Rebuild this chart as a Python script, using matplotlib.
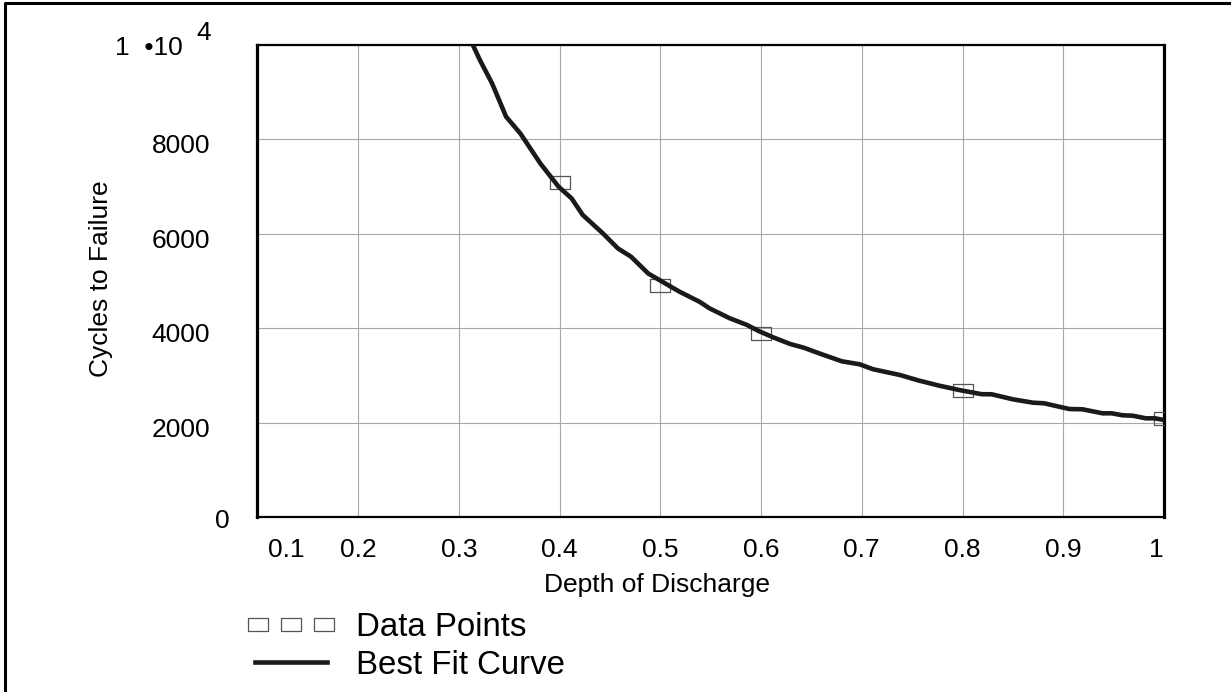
import matplotlib
matplotlib.use("Agg")
import matplotlib.pyplot as plt
import matplotlib.transforms as mtransforms
from matplotlib.legend_handler import HandlerLine2D

# values
dod_points = [0.4, 0.5, 0.6, 0.8, 1.0]
cycles_points = [7104, 4915, 3892, 2684, 2104]

dod_curve = [0.314, 0.321, 0.333, 0.347, 0.361, 0.381, 0.399, 0.412, 0.423,
             0.443, 0.458, 0.471, 0.488, 0.500, 0.519, 0.539, 0.549, 0.569,
             0.586, 0.597, 0.612, 0.629, 0.642, 0.660, 0.680, 0.698, 0.711,
             0.738, 0.756, 0.777, 0.798, 0.819, 0.829, 0.850, 0.870, 0.881,
             0.906, 0.919, 0.939, 0.948, 0.959, 0.969, 0.982, 0.991, 1.000]
cycles_curve = [10000, 9680, 9190, 8480, 8130, 7490, 7000, 6750, 6400,
                6010, 5690, 5515, 5160, 5010, 4775, 4560, 4420, 4210,
                4070, 3947, 3807, 3665, 3590, 3450, 3300, 3235, 3132,
                3008, 2895, 2782, 2685, 2602, 2600, 2493, 2422, 2409,
                2288, 2282, 2197, 2197, 2155, 2146, 2091, 2091, 2055]

x_ticks = [0.1, 0.2, 0.3, 0.4, 0.5, 0.6, 0.7, 0.8, 0.9, 1.0]
x_tick_labels = ["", "0.2", "0.3", "0.4", "0.5", "0.6", "0.7", "0.8", "0.9", "1"]
y_ticks = [0, 2000, 4000, 6000, 8000, 10000]
y_tick_labels = ["", "2000", "4000", "6000", "8000", ""]

# rectangle marker, wider than tall
box = [(-1, -0.65), (1, -0.65), (1, 0.65), (-1, 0.65), (-1, -0.65)]


def main():
    plt.rcParams['font.family'] = ['Liberation Sans', 'DejaVu Sans']

    fig = plt.figure(figsize=(12.31, 6.92), dpi=100)
    ax = fig.add_axes([0.209, 0.2529, 0.7366, 0.682])

    points, = ax.plot(dod_points, cycles_points, linestyle="None", marker=box,
                      markersize=14.4, markerfacecolor="none",
                      markeredgecolor="#555555", markeredgewidth=0.9, zorder=3)
    curve, = ax.plot(dod_curve, cycles_curve, color="#1a1a1a", linewidth=3.3,
                     solid_joinstyle="round", zorder=4)

    ax.set_xlim(0.1, 1.0)
    ax.set_ylim(0, 10000)
    ax.set_xticks(x_ticks)
    ax.set_xticklabels(x_tick_labels)
    ax.set_yticks(y_ticks)
    ax.set_yticklabels(y_tick_labels)
    ax.tick_params(axis="both", length=0, labelsize=19)
    ax.tick_params(axis="x", pad=15)
    ax.tick_params(axis="y", pad=34)

    # last x label sits left of its grid line, y labels sit a bit low
    ax.get_xticklabels()[-1].set_ha("right")
    shift = mtransforms.ScaledTranslation(0, -0.045, fig.dpi_scale_trans)
    for lab in ax.get_yticklabels():
        lab.set_transform(lab.get_transform() + shift)

    ax.grid(True, color="#a8a8a8", linewidth=0.8)
    ax.set_axisbelow(True)
    for side in ["left", "right"]:
        ax.spines[side].set_linewidth(2.3)
    for side in ["top", "bottom"]:
        ax.spines[side].set_linewidth(1.6)

    # odd placed labels of the original
    ax.text(-0.0301, -0.0085, "0", transform=ax.transAxes, fontsize=19,
            ha="right", va="center")
    ax.text(-0.0819, 0.9936, "1  \u202210", transform=ax.transAxes, fontsize=19,
            ha="right", va="center")
    ax.text(-0.0676, 1.0254, "4", transform=ax.transAxes, fontsize=19,
            ha="left", va="center")
    ax.text(0.0115, -0.0445, "0.1", transform=ax.transAxes, fontsize=19,
            ha="left", va="top")

    ax.set_xlabel("Depth of Discharge", fontsize=19)
    ax.xaxis.set_label_coords(0.4405, -0.118)
    ax.set_ylabel("Cycles to Failure", fontsize=19)
    ax.yaxis.set_label_coords(-0.159, 0.505)

    ax.legend([points, curve], ["Data Points", "Best Fit Curve"],
              handler_map={points: HandlerLine2D(marker_pad=0.09, numpoints=3)},
              loc="upper left", bbox_to_anchor=(255 / 1231, 1 - 612 / 692),
              bbox_transform=fig.transFigure, frameon=False, fontsize=23.8,
              handlelength=2.17, handletextpad=0.9, labelspacing=0.2,
              borderpad=0, borderaxespad=0)

    # frame lines on the top and left of the picture
    fig.add_artist(plt.Line2D([0.0043, 0.0043, 1.0], [0.0, 0.9952, 0.9952],
                              transform=fig.transFigure, color="black",
                              linewidth=2.2))

    fig.savefig("out.png", dpi=100)


main()
